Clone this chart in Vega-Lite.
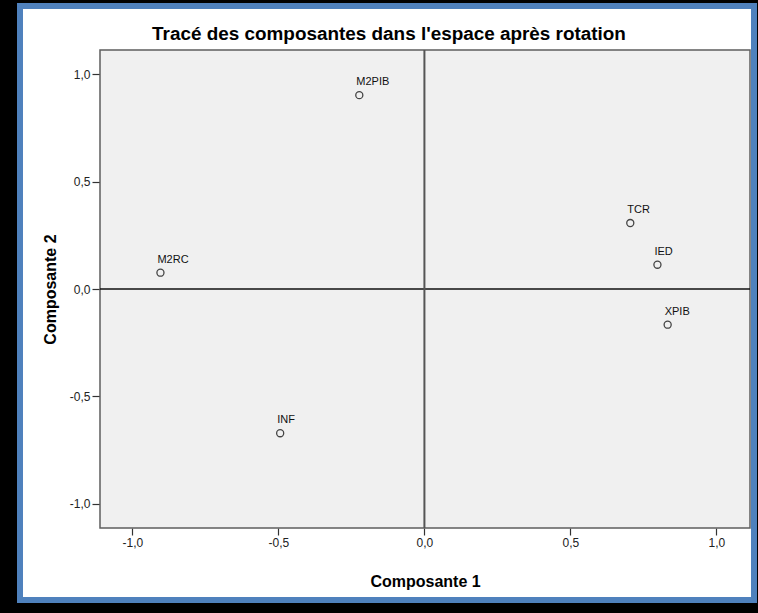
{
  "$schema": "https://vega.github.io/schema/vega-lite/v6.json",
  "width": 734,
  "height": 594,
  "autosize": {"type": "none"},
  "padding": {"left": 20, "top": 6, "right": 4, "bottom": 13},
  "background": "#000000",
  "title": {
    "text": "Tracé des composantes dans l'espace après rotation",
    "font": "Liberation Sans",
    "fontSize": 18.9,
    "fontWeight": "bold",
    "color": "#000000",
    "anchor": "middle",
    "frame": "group",
    "orient": "top",
    "baseline": "alphabetic",
    "offset": -53,
    "dx": 2
  },
  "config": {
    "font": "Liberation Sans",
    "view": {"fill": "#ffffff", "stroke": "#4f81bd", "strokeWidth": 6},
    "axis": {
      "labelExpr": "replace(replace(format(datum.value, '.1f'), '.', ','), '\u2212', '-')",
      "domain": false,
      "grid": false,
      "ticks": true,
      "tickColor": "#333333",
      "tickWidth": 1.2,
      "labelFont": "Liberation Sans",
      "labelFontSize": 12,
      "labelColor": "#222222",
      "labelPadding": 2,
      "labelFlush": false,
      "labelOverlap": false,
      "titleFont": "Liberation Sans",
      "titleFontSize": 16,
      "titleFontWeight": "bold",
      "titleColor": "#000000",
      "titleBaseline": "alphabetic"
    },
    "axisX": {"offset": -72, "tickSize": 7, "titleY": 58},
    "axisY": {"offset": -80, "tickSize": 8, "titleAngle": -90, "titleAlign": "center", "titleX": -45}
  },
  "data": {
    "values": [
      {"variable": "M2PIB", "composante1": -0.223, "composante2": 0.902},
      {"variable": "M2RC", "composante1": -0.904, "composante2": 0.076},
      {"variable": "INF", "composante1": -0.494, "composante2": -0.671},
      {"variable": "TCR", "composante1": 0.705, "composante2": 0.307},
      {"variable": "IED", "composante1": 0.798, "composante2": 0.113},
      {"variable": "XPIB", "composante1": 0.833, "composante2": -0.166}
    ]
  },
  "layer": [
    {
      "data": {"values": [{}]},
      "mark": {"type": "rect", "fill": "#f0f0f0", "stroke": "#5e5e5e", "strokeWidth": 1.5},
      "encoding": {
        "x": {
          "datum": -1.111,
          "type": "quantitative",
          "title": "Composante 1",
          "scale": {"domain": [-1.111, 1.115], "range": [80, 730], "nice": false, "zero": false},
          "axis": {"values": [-1, -0.5, 0, 0.5, 1]}
        },
        "x2": {"datum": 1.115},
        "y": {
          "datum": -1.112,
          "type": "quantitative",
          "title": "Composante 2",
          "scale": {"domain": [-1.112, 1.112], "range": [522, 44], "nice": false, "zero": false},
          "axis": {"values": [-1, -0.5, 0, 0.5, 1]}
        },
        "y2": {"datum": 1.112}
      }
    },
    {
      "data": {"values": [{}]},
      "mark": {"type": "rule", "stroke": "#111111", "strokeWidth": 1.4},
      "encoding": {
        "y": {"datum": 0, "type": "quantitative", "title": "Composante 2", "axis": {"values": [-1, -0.5, 0, 0.5, 1]}},
        "x": {"datum": -1.111, "type": "quantitative", "title": "Composante 1", "axis": {"values": [-1, -0.5, 0, 0.5, 1]}},
        "x2": {"datum": 1.115}
      }
    },
    {
      "data": {"values": [{}]},
      "mark": {"type": "rule", "stroke": "#555555", "strokeWidth": 2},
      "encoding": {
        "x": {"datum": 0, "type": "quantitative", "title": "Composante 1", "axis": {"values": [-1, -0.5, 0, 0.5, 1]}},
        "y": {"datum": -1.112, "type": "quantitative", "title": "Composante 2", "axis": {"values": [-1, -0.5, 0, 0.5, 1]}},
        "y2": {"datum": 1.112}
      }
    },
    {
      "mark": {"type": "point", "shape": "circle", "filled": false, "size": 50, "stroke": "#444444", "strokeWidth": 1.3, "opacity": 1},
      "encoding": {
        "x": {"field": "composante1", "type": "quantitative", "title": "Composante 1", "axis": {"values": [-1, -0.5, 0, 0.5, 1]}},
        "y": {"field": "composante2", "type": "quantitative", "title": "Composante 2", "axis": {"values": [-1, -0.5, 0, 0.5, 1]}}
      }
    },
    {
      "mark": {"type": "text", "align": "left", "baseline": "alphabetic", "dx": -3, "dy": -10, "font": "Liberation Sans", "fontSize": 11, "fill": "#111111"},
      "encoding": {
        "x": {"field": "composante1", "type": "quantitative", "title": "Composante 1", "axis": {"values": [-1, -0.5, 0, 0.5, 1]}},
        "y": {"field": "composante2", "type": "quantitative", "title": "Composante 2", "axis": {"values": [-1, -0.5, 0, 0.5, 1]}},
        "text": {"field": "variable", "type": "nominal"}
      }
    }
  ]
}
